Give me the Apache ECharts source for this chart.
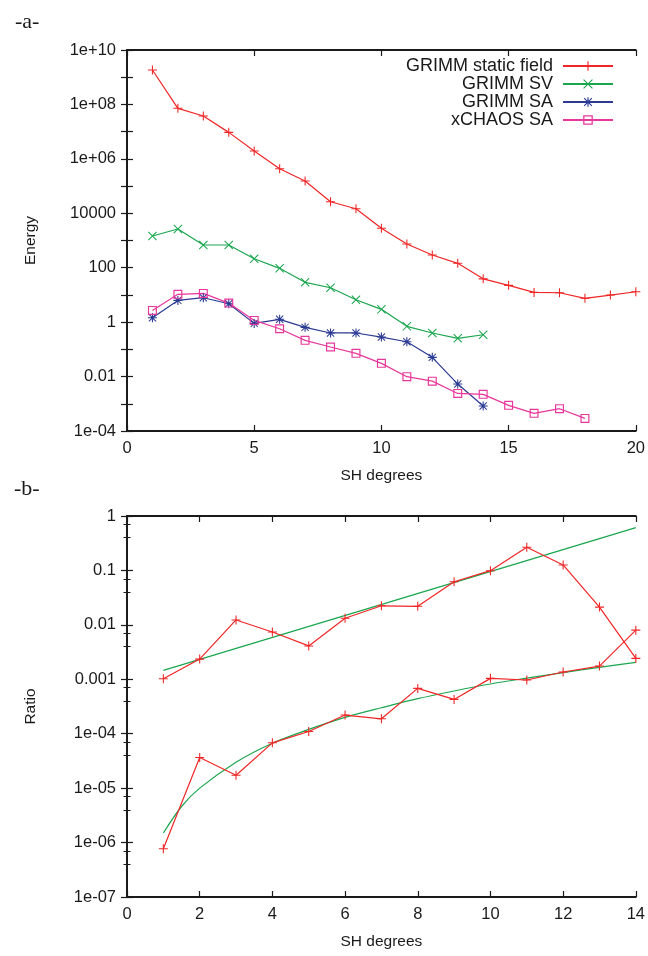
<!DOCTYPE html>
<html><head><meta charset="utf-8">
<script src="https://cdn.jsdelivr.net/npm/echarts@6/dist/echarts.min.js"></script>
<style>html,body{margin:0;padding:0;background:#fff}#c{width:648px;height:956px}</style>
</head><body><div id="c"></div><script>
// ---- Panel a data ----
const degreesA = [1,2,3,4,5,6,7,8,9,10,11,12,13,14,15,16,17,18,19,20];
const grimmStatic = [1.84e9, 7.2e7, 3.75e7, 9.4e6, 1.94e6, 4.3e5, 1.53e5, 2.66e4, 1.47e4, 2800, 741, 292, 145, 39, 22.5, 12.4, 12.0, 7.5, 9.9, 13.1];
const grimmSV = [1460, 2640, 682, 682, 214, 95, 29, 18.4, 6.65, 2.95, 0.70, 0.40, 0.254, 0.344];
const grimmSA = [1.45, 6.3, 7.9, 4.74, 0.90, 1.27, 0.644, 0.40, 0.40, 0.283, 0.19, 0.0508, 0.0053, 8.3e-4];
const xchaosSA = [2.7, 10.5, 11.4, 5.0, 1.16, 0.57, 0.214, 0.122, 0.0713, 0.0306, 0.0099, 0.0068, 0.0024, 0.00222, 8.75e-4, 4.45e-4, 6.6e-4, 2.9e-4];
const seriesNamesA = ['GRIMM static field', 'GRIMM SV', 'GRIMM SA', 'xCHAOS SA'];
const topTickExps = [-4, -2, 0, 2, 4, 6, 8, 10];
const topTickLabels = ['1e-04', '0.01', '1', '100', '10000', '1e+06', '1e+08', '1e+10'];
// ---- Panel b data ----
const degreesB = [1,2,3,4,5,6,7,8,9,10,11,12,13,14];
const ratioUpper = [1.02e-3, 2.35e-3, 0.0123, 0.0074, 0.0041, 0.0132, 0.0224, 0.0219, 0.062, 0.099, 0.266, 0.126, 0.0212, 0.00242];
const ratioLower = [7.7e-7, 3.66e-5, 1.73e-5, 6.8e-5, 1.1e-4, 2.2e-4, 1.88e-4, 6.8e-4, 4.27e-4, 1.04e-3, 9.7e-4, 1.36e-3, 1.75e-3, 0.008];
const fitUpperX = [1, 14];
const fitUpperY = [1.46e-3, 0.61];
const fitLowerX = [1, 1.5, 2, 3, 4, 5, 6, 7, 8, 9, 10, 11, 12, 13, 14];
const fitLowerY = [1.5e-6, 4.6e-6, 1.0e-5, 3.0e-5, 6.7e-5, 1.2e-4, 2.0e-4, 3.0e-4, 4.4e-4, 6.1e-4, 8.2e-4, 1.05e-3, 1.33e-3, 1.66e-3, 2.05e-3];
const botTickExps = [-7, -6, -5, -4, -3, -2, -1, 0];
const botTickLabels = ['1e-07', '1e-06', '1e-05', '1e-04', '0.001', '0.01', '0.1', '1'];

const RED = '#f02626', GREEN = '#1aa64f', BLUE = '#2b3a93', PINK = '#e8379b';
const FONT = '"Liberation Sans", Arial, Helvetica, sans-serif';
const SERIF = '"Liberation Serif", "DejaVu Serif", serif';
const INK = '#1a1a1a';

const PLUS = 'path://M4.4,0h1.2v10h-1.2z M0,4.4h10v1.2h-10z';
const CROSS = 'path://M0,0.8L0.8,0L10,9.2L9.2,10Z M9.2,0L10,0.8L0.8,10L0,9.2Z';
const STAR = 'path://M4.4,0h1.2v10h-1.2z M0,4.4h10v1.2h-10z M0.6,1.4L1.4,0.6L9.4,8.6L8.6,9.4Z M8.6,0.6L9.4,1.4L1.4,9.4L0.6,8.6Z';
const SQUARE = 'path://M0,0H10V10H0Z M1.3,1.3V8.7H8.7V1.3Z';

const zip = (xs, ys) => xs.map((x, i) => [x, ys[i]]);
const fmt = (exps, labels) => v => {
  const e = Math.round(Math.log10(v));
  const i = exps.indexOf(e);
  return i >= 0 ? labels[i] : '';
};

const axisLine = { show: true, lineStyle: { color: INK, width: 1.8 } };
const tick = { show: true, inside: true, length: 6, lineStyle: { color: INK, width: 1.2 } };
const lbl = { color: INK, fontFamily: FONT, fontSize: 16.5 };

function xAx(grid, max, interval, mirror) {
  return {
    type: 'value', gridIndex: grid, min: 0, max: max, interval: interval,
    position: mirror ? 'top' : 'bottom',
    axisLine: axisLine, axisTick: tick, splitLine: { show: false },
    axisLabel: mirror ? { show: false } : Object.assign({ margin: 9 }, lbl),
    name: mirror ? '' : 'SH degrees', nameLocation: 'middle', nameGap: 37,
    nameTextStyle: { color: INK, fontFamily: FONT, fontSize: 15.5 }
  };
}
function yAx(grid, min, max, exps, labels, mirror, name, minor) {
  return {
    type: 'log', gridIndex: grid, min: min, max: max, interval: 1, logBase: 10,
    position: mirror ? 'right' : 'left',
    axisLine: axisLine, axisTick: tick, splitLine: { show: false },
    minorTick: minor ? { show: true, splitNumber: 3, length: 3.5, lineStyle: { color: INK, width: 1 } } : { show: false },
    minorSplitLine: { show: false },
    axisLabel: mirror ? { show: false } : Object.assign({ margin: 11, formatter: fmt(exps, labels) }, lbl),
    name: mirror ? '' : name, nameLocation: 'middle', nameGap: 88,
    nameTextStyle: { color: INK, fontFamily: FONT, fontSize: 15.5 }
  };
}
function line(name, data, color, symbol, xi, yi, extra) {
  return Object.assign({
    name: name, type: 'line', data: data, xAxisIndex: xi, yAxisIndex: yi,
    symbol: symbol, symbolSize: 9, showSymbol: true,
    lineStyle: { color: color, width: 1.2 }, itemStyle: { color: color },
    emphasis: { disabled: true }, z: 3
  }, extra || {});
}

const chart = echarts.init(document.getElementById('c'), null, { renderer: 'canvas' });
chart.setOption({
  animation: false,
  backgroundColor: '#fff',
  title: [
    { text: '-a-', left: 10, top: 6, textStyle: { fontFamily: SERIF, fontSize: 22, fontWeight: 'normal', color: INK } },
    { text: '-b-', left: 9, top: 473, textStyle: { fontFamily: SERIF, fontSize: 22, fontWeight: 'normal', color: INK } }
  ],
  legend: {
    data: seriesNamesA, orient: 'vertical', align: 'right',
    right: 29, top: 52, itemWidth: 50, itemHeight: 12, itemGap: 0,
    textStyle: { fontFamily: FONT, fontSize: 18, lineHeight: 18, color: INK, padding: [0, 5, 0, 0] },
    selectedMode: false
  },
  grid: [
    { left: 127, top: 50, width: 509, height: 381, containLabel: false },
    { left: 127, top: 516, width: 509, height: 381, containLabel: false }
  ],
  xAxis: [
    xAx(0, 20, 5, false), xAx(0, 20, 5, true),
    xAx(1, 14, 2, false), xAx(1, 14, 2, true)
  ],
  yAxis: [
    yAx(0, 1e-4, 1e10, topTickExps, topTickLabels, false, 'Energy', false),
    yAx(0, 1e-4, 1e10, topTickExps, topTickLabels, true, '', false),
    yAx(1, 1e-7, 1, botTickExps, botTickLabels, false, 'Ratio', true),
    yAx(1, 1e-7, 1, botTickExps, botTickLabels, true, '', true)
  ],
  series: [
    line(seriesNamesA[0], zip(degreesA, grimmStatic), RED, PLUS, 0, 0),
    line(seriesNamesA[1], zip(degreesA, grimmSV), GREEN, CROSS, 0, 0),
    line(seriesNamesA[2], zip(degreesA, grimmSA), BLUE, STAR, 0, 0),
    line(seriesNamesA[3], zip(degreesA, xchaosSA), PINK, SQUARE, 0, 0),
    line('ratio upper', zip(degreesB, ratioUpper), RED, PLUS, 2, 2),
    line('ratio lower', zip(degreesB, ratioLower), RED, PLUS, 2, 2),
    line('fit upper', zip(fitUpperX, fitUpperY), GREEN, 'none', 2, 2, { showSymbol: false, z: 2 }),
    line('fit lower', zip(fitLowerX, fitLowerY), GREEN, 'none', 2, 2, { showSymbol: false, smooth: 0.3, z: 2 })
  ]
});
</script></body></html>
